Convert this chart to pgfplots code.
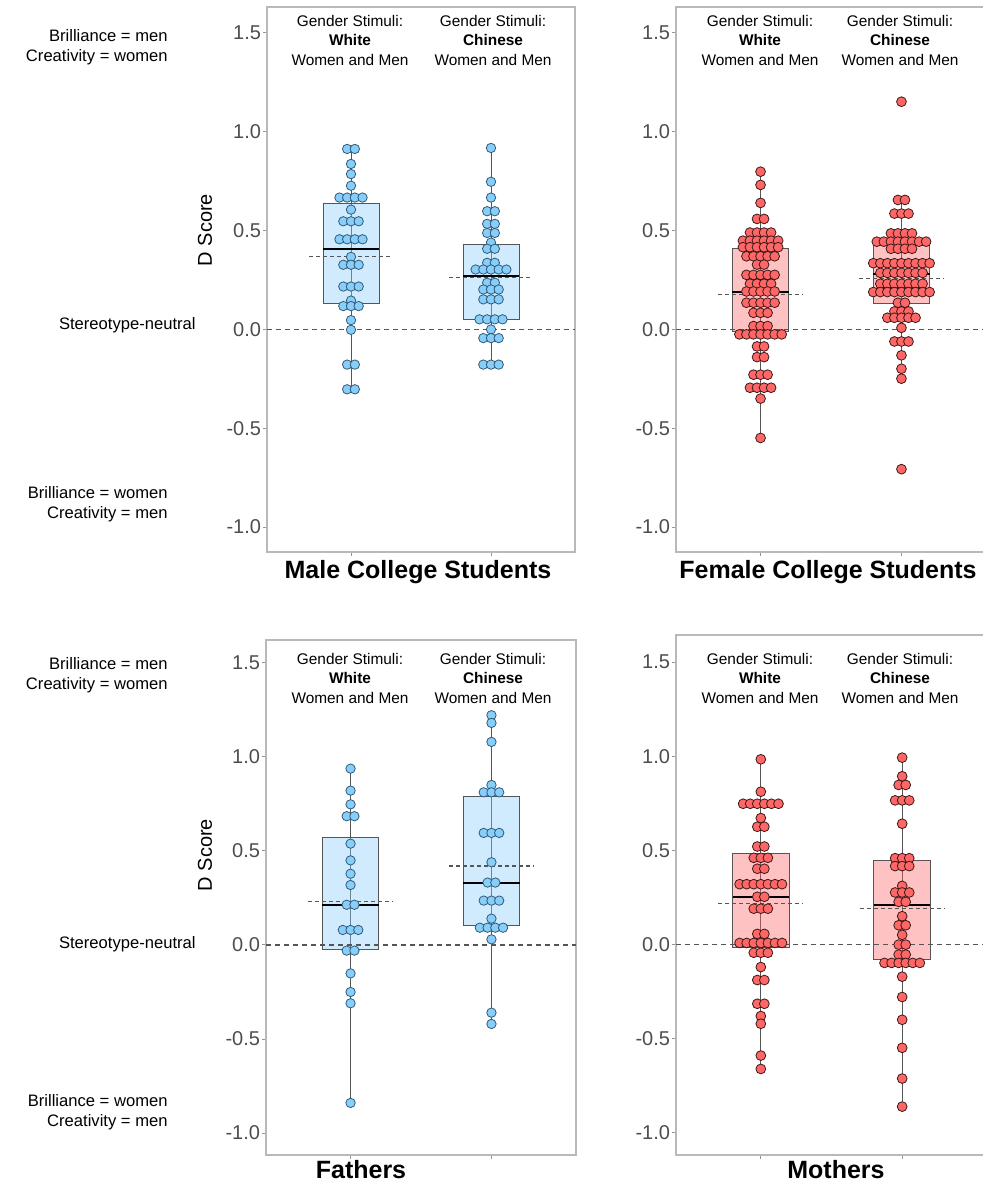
\documentclass[border=0pt]{standalone}
\usepackage{fontspec}
\setmainfont{Liberation Sans}
\usepackage{pgfplots}
\pgfplotsset{compat=1.18}
\definecolor{dotblue}{RGB}{135,206,250}
\definecolor{dotblueline}{RGB}{50,90,120}
\definecolor{dotred}{RGB}{255,102,102}
\definecolor{dotredline}{RGB}{60,25,25}
\definecolor{framegrey}{RGB}{185,185,185}
\definecolor{tickgrey}{RGB}{77,77,77}
\definecolor{linegrey}{RGB}{85,85,85}
\pgfplotsset{
  panel/.style={scale only axis, xmin=0.4, xmax=2.6, xtick={1,2}, xticklabels={},
    ytick={-1,-0.5,0,0.5,1,1.5}, tick pos=left, tick align=outside,
    major tick length=2pt, axis line style={framegrey, line width=0.6pt},
    every tick/.style={framegrey!80!black, line width=0.5pt},
    yticklabel style={font=\fontsize{10}{12}\selectfont, text=tickgrey, inner sep=0.8pt,
      /pgf/number format/.cd, fixed, fixed zerofill, precision=1, assume math mode=true},
    axis on top=false},
  bluedot/.style={only marks, mark=*, mark size=2.35pt, mark options={fill=dotblue, draw=dotblueline, line width=0.4pt}},
  reddot/.style={only marks, mark=*, mark size=2.45pt, mark options={fill=dotred, draw=dotredline, line width=0.4pt}},
  whisk/.style={linegrey, line width=0.5pt},
  bluebox/.style={fill=dotblue, fill opacity=0.4, draw=linegrey, line width=0.5pt},
  redbox/.style={fill=dotred, fill opacity=0.4, draw=linegrey, line width=0.5pt},
  med/.style={black, line width=1pt},
  meanl/.style={linegrey, line width=0.55pt, dash pattern=on 2pt off 1.5pt},
  zerol/.style={linegrey, line width=0.6pt, dash pattern=on 2.5pt off 2pt},
}
\newcommand{\hdr}[1]{Gender Stimuli:\\\textbf{#1}\\Women and Men}
\begin{document}
\begin{tikzpicture}
\path[use as bounding box] (0,0) rectangle (491.5pt,-595pt);
% ---------------- Top-left: Male College Students
\begin{axis}[panel, at={(133.5pt,-276pt)}, anchor=south west, width=154pt, height=272.5pt, ymin=-1.126, ymax=1.631]
\addplot[bluedot] coordinates {
(0.9725,0.913)(1.0275,0.913)(1,0.837)(1,0.786)(1,0.727)
(0.9175,0.667)(0.9725,0.667)(1.0275,0.667)(1.0825,0.667)
(1,0.606)(0.945,0.547)(1,0.547)(1.055,0.547)
(0.9175,0.456)(0.9725,0.456)(1.0275,0.456)(1.0825,0.456)
(1,0.367)(0.945,0.327)(1,0.327)(1.055,0.327)
(0.945,0.217)(1,0.217)(1.055,0.217)(1,0.146)
(0.945,0.118)(1,0.118)(1.055,0.118)(1,0.047)(1,-0.002)
(0.9725,-0.178)(1.0275,-0.178)(0.9725,-0.303)(1.0275,-0.303)};
\addplot[bluedot] coordinates {
(2,0.918)(2,0.747)(2,0.667)(1.9725,0.598)(2.0275,0.598)
(1.9725,0.534)(2.0275,0.534)(1.9725,0.488)(2.0275,0.488)(2,0.439)
(1.9725,0.408)(2.0275,0.408)(1.9725,0.337)(2.0275,0.337)
(1.89,0.303)(1.945,0.303)(2,0.303)(2.055,0.303)(2.11,0.303)
(1.9725,0.236)(2.0275,0.236)(1.945,0.202)(2,0.202)(2.055,0.202)
(1.945,0.152)(2,0.152)(2.055,0.152)
(1.9175,0.051)(1.9725,0.051)(2.0275,0.051)(2.0825,0.051)(2,0.0)
(1.945,-0.044)(2,-0.044)(2.055,-0.044)(1.945,-0.178)(2,-0.178)(2.055,-0.178)};
\addplot[whisk] coordinates {(1,-0.303)(1,0.913)};
\addplot[whisk] coordinates {(2,-0.178)(2,0.918)};
\addplot[bluebox] coordinates {(0.8,0.133)(1.2,0.133)(1.2,0.638)(0.8,0.638)} -- cycle;
\addplot[bluebox] coordinates {(1.8,0.052)(2.2,0.052)(2.2,0.431)(1.8,0.431)} -- cycle;
\addplot[med] coordinates {(0.8,0.408)(1.2,0.408)};
\addplot[med] coordinates {(1.8,0.268)(2.2,0.268)};
\addplot[meanl] coordinates {(0.7,0.367)(1.3,0.367)};
\addplot[meanl] coordinates {(1.7,0.264)(2.3,0.264)};
\addplot[zerol] coordinates {(0.4,0)(2.6,0)};
\end{axis}
% ---------------- Top-right: Female College Students
\begin{axis}[panel, at={(338pt,-276pt)}, anchor=south west, width=155pt, height=272.5pt, ymin=-1.126, ymax=1.631]
\addplot[reddot] coordinates {
(1,0.798)(1,0.731)(1,0.640)(0.975,0.559)(1.025,0.559)
(0.925,0.490)(0.975,0.490)(1.025,0.490)(1.075,0.490)
(0.875,0.449)(0.925,0.449)(0.975,0.449)(1.025,0.449)(1.075,0.449)(1.125,0.449)
(0.875,0.416)(0.925,0.416)(0.975,0.416)(1.025,0.416)(1.075,0.416)(1.125,0.416)
(0.9,0.370)(0.95,0.370)(1,0.370)(1.05,0.370)(1.1,0.370)
(0.975,0.328)(1.025,0.328)
(0.9,0.276)(0.95,0.276)(1,0.276)(1.05,0.276)(1.1,0.276)
(0.925,0.231)(0.975,0.231)(1.025,0.231)(1.075,0.231)
(0.9,0.192)(0.95,0.192)(1,0.192)(1.05,0.192)(1.1,0.192)
(0.9,0.135)(0.95,0.135)(1,0.135)(1.05,0.135)(1.1,0.135)
(0.95,0.084)(1,0.084)(1.05,0.084)(0.95,0.017)(1,0.017)(1.05,0.017)
(0.85,-0.025)(0.9,-0.025)(0.95,-0.025)(1,-0.025)(1.05,-0.025)(1.1,-0.025)(1.15,-0.025)
(0.975,-0.086)(1.025,-0.086)(0.975,-0.140)(1.025,-0.140)
(0.95,-0.229)(1,-0.229)(1.05,-0.229)
(0.925,-0.295)(0.975,-0.295)(1.025,-0.295)(1.075,-0.295)
(1,-0.350)(1,-0.549)};
\addplot[reddot] coordinates {
(2,1.152)(1.975,0.655)(2.025,0.655)(1.95,0.586)(2,0.586)(2.05,0.586)
(1.925,0.486)(1.975,0.486)(2.025,0.486)(2.075,0.486)
(1.825,0.444)(1.875,0.444)(1.925,0.444)(1.975,0.444)(2.025,0.444)(2.075,0.444)(2.125,0.444)(2.175,0.444)
(1.925,0.408)(1.975,0.408)(2.025,0.408)(2.075,0.408)
(1.8,0.335)(1.85,0.335)(1.9,0.335)(1.95,0.335)(2,0.335)(2.05,0.335)(2.1,0.335)(2.15,0.335)(2.2,0.335)
(1.85,0.286)(1.9,0.286)(1.95,0.286)(2,0.286)(2.05,0.286)(2.1,0.286)(2.15,0.286)
(1.85,0.231)(1.9,0.231)(1.95,0.231)(2,0.231)(2.05,0.231)(2.1,0.231)(2.15,0.231)
(1.8,0.189)(1.85,0.189)(1.9,0.189)(1.95,0.189)(2,0.189)(2.05,0.189)(2.1,0.189)(2.15,0.189)(2.2,0.189)
(1.975,0.135)(2.025,0.135)(1.95,0.091)(2,0.091)(2.05,0.091)
(1.9,0.059)(1.95,0.059)(2,0.059)(2.05,0.059)(2.1,0.059)
(2,0.008)(1.95,-0.061)(2,-0.061)(2.05,-0.061)
(2,-0.131)(2,-0.199)(2,-0.249)(2,-0.707)};
\addplot[whisk] coordinates {(1,-0.549)(1,0.798)};
\addplot[whisk] coordinates {(2,-0.249)(2,0.655)};
\addplot[redbox] coordinates {(0.8,-0.010)(1.2,-0.010)(1.2,0.411)(0.8,0.411)} -- cycle;
\addplot[redbox] coordinates {(1.8,0.133)(2.2,0.133)(2.2,0.424)(1.8,0.424)} -- cycle;
\addplot[med] coordinates {(0.8,0.190)(1.2,0.190)};
\addplot[med] coordinates {(1.8,0.281)(2.2,0.281)};
\addplot[meanl] coordinates {(0.7,0.178)(1.3,0.178)};
\addplot[meanl] coordinates {(1.7,0.259)(2.3,0.259)};
\addplot[zerol] coordinates {(0.4,0)(2.6,0)};
\end{axis}
% ---------------- Bottom-left: Fathers
\begin{axis}[panel, at={(133pt,-577.5pt)}, anchor=south west, width=155pt, height=257.5pt, ymin=-1.117, ymax=1.622]
\addplot[bluedot] coordinates {
(1,0.938)(1,0.821)(1,0.748)(0.9725,0.685)(1.0275,0.685)(1,0.539)(1,0.450)(1,0.379)(1,0.319)
(0.9725,0.214)(1.0275,0.214)(0.945,0.080)(1,0.080)(1.055,0.080)
(0.9725,-0.030)(1.0275,-0.030)(1,-0.151)(1,-0.250)(1,-0.310)(1,-0.840)};
\addplot[bluedot] coordinates {
(2,1.222)(2,1.181)(2,1.080)(2,0.851)(1.945,0.812)(2,0.812)(2.055,0.812)
(1.945,0.596)(2,0.596)(2.055,0.596)(2,0.440)(1.9725,0.332)(2.0275,0.332)
(1.945,0.236)(2,0.236)(2.055,0.236)(2,0.140)
(1.9175,0.092)(1.9725,0.092)(2.0275,0.092)(2.0825,0.092)(2,0.030)(2,-0.360)(2,-0.420)};
\addplot[whisk] coordinates {(1,-0.840)(1,0.938)};
\addplot[whisk] coordinates {(2,-0.420)(2,1.222)};
\addplot[bluebox] coordinates {(0.8,-0.023)(1.2,-0.023)(1.2,0.574)(0.8,0.574)} -- cycle;
\addplot[bluebox] coordinates {(1.8,0.103)(2.2,0.103)(2.2,0.791)(1.8,0.791)} -- cycle;
\addplot[med] coordinates {(0.8,0.214)(1.2,0.214)};
\addplot[med] coordinates {(1.8,0.330)(2.2,0.330)};
\addplot[meanl] coordinates {(0.7,0.232)(1.3,0.232)};
\addplot[meanl] coordinates {(1.7,0.420)(2.3,0.420)};
\addplot[zerol] coordinates {(0.4,0)(2.6,0)};
\end{axis}
% ---------------- Bottom-right: Mothers
\begin{axis}[panel, at={(338pt,-577.5pt)}, anchor=south west, width=155.5pt, height=260pt, ymin=-1.117, ymax=1.644]
\addplot[reddot] coordinates {
(1,0.984)(1,0.812)
(0.875,0.748)(0.925,0.748)(0.975,0.748)(1.025,0.748)(1.075,0.748)(1.125,0.748)
(1,0.672)(0.975,0.626)(1.025,0.626)(0.975,0.521)(1.025,0.521)
(0.95,0.461)(1,0.461)(1.05,0.461)(0.975,0.403)(1.025,0.403)
(0.85,0.321)(0.9,0.321)(0.95,0.321)(1,0.321)(1.05,0.321)(1.1,0.321)(1.15,0.321)
(0.975,0.254)(1.025,0.254)(0.95,0.191)(1,0.191)(1.05,0.191)
(0.975,0.057)(1.025,0.057)
(0.85,0.009)(0.9,0.009)(0.95,0.009)(1,0.009)(1.05,0.009)(1.1,0.009)(1.15,0.009)
(0.95,-0.043)(1,-0.043)(1.05,-0.043)(1,-0.119)(0.975,-0.188)(1.025,-0.188)
(0.975,-0.314)(1.025,-0.314)(1,-0.379)(1,-0.420)(1,-0.589)(1,-0.660)};
\addplot[reddot] coordinates {
(2,0.993)(2,0.894)(1.975,0.848)(2.025,0.848)(1.95,0.766)(2,0.766)(2.05,0.766)
(2,0.642)(1.95,0.459)(2,0.459)(2.05,0.459)(1.95,0.417)(2,0.417)(2.05,0.417)
(2,0.312)(1.95,0.277)(2,0.277)(2.05,0.277)(1.975,0.227)(2.025,0.227)
(2,0.151)(1.975,0.103)(2.025,0.103)(2,0.052)(1.975,0.000)(2.025,0.000)
(1.975,-0.053)(2.025,-0.053)
(1.875,-0.097)(1.925,-0.097)(1.975,-0.097)(2.025,-0.097)(2.075,-0.097)(2.125,-0.097)
(2,-0.170)(2,-0.278)(2,-0.399)(2,-0.548)(2,-0.711)(2,-0.860)};
\addplot[whisk] coordinates {(1,-0.660)(1,0.984)};
\addplot[whisk] coordinates {(2,-0.860)(2,0.993)};
\addplot[redbox] coordinates {(0.8,-0.014)(1.2,-0.014)(1.2,0.484)(0.8,0.484)} -- cycle;
\addplot[redbox] coordinates {(1.8,-0.080)(2.2,-0.080)(2.2,0.447)(1.8,0.447)} -- cycle;
\addplot[med] coordinates {(0.8,0.254)(1.2,0.254)};
\addplot[med] coordinates {(1.8,0.213)(2.2,0.213)};
\addplot[meanl] coordinates {(0.7,0.220)(1.3,0.220)};
\addplot[meanl] coordinates {(1.7,0.193)(2.3,0.193)};
\addplot[zerol] coordinates {(0.4,0)(2.6,0)};
\end{axis}
% ---------------- Headers
\begin{scope}[every node/.style={align=center, inner sep=0pt, font=\fontsize{7.7}{9.75}\selectfont}]
\node at (175pt,-20pt) {\hdr{White}};
\node at (246.5pt,-20pt) {\hdr{Chinese}};
\node at (380pt,-20pt) {\hdr{White}};
\node at (450pt,-20pt) {\hdr{Chinese}};
\node at (175pt,-339pt) {\hdr{White}};
\node at (246.5pt,-339pt) {\hdr{Chinese}};
\node at (380pt,-339pt) {\hdr{White}};
\node at (450pt,-339pt) {\hdr{Chinese}};
\end{scope}
% ---------------- Left annotations
\begin{scope}[every node/.style={align=right, anchor=east, inner sep=0pt, font=\fontsize{8.3}{10.2}\selectfont}]
\node at (84pt,-23.5pt) {Brilliance = men\\Creativity = women};
\node at (98pt,-162.5pt) {Stereotype-neutral};
\node at (84pt,-252pt) {Brilliance = women\\Creativity = men};
\node at (84pt,-337.5pt) {Brilliance = men\\Creativity = women};
\node at (98pt,-472pt) {Stereotype-neutral};
\node at (84pt,-556pt) {Brilliance = women\\Creativity = men};
\end{scope}
% ---------------- D Score labels
\node[rotate=90, font=\fontsize{10}{12}\selectfont] at (102.5pt,-115pt) {D Score};
\node[rotate=90, font=\fontsize{10}{12}\selectfont] at (102.5pt,-427.5pt) {D Score};
% ---------------- Panel titles
\begin{scope}[every node/.style={font=\fontsize{12.5}{14}\selectfont\bfseries, inner sep=0pt}]
\node at (209pt,-286pt) {Male College Students};
\node at (414pt,-286pt) {Female College Students};
\node at (180.5pt,-585pt) {Fathers};
\node at (418pt,-585pt) {Mothers};
\end{scope}
\end{tikzpicture}
\end{document}
